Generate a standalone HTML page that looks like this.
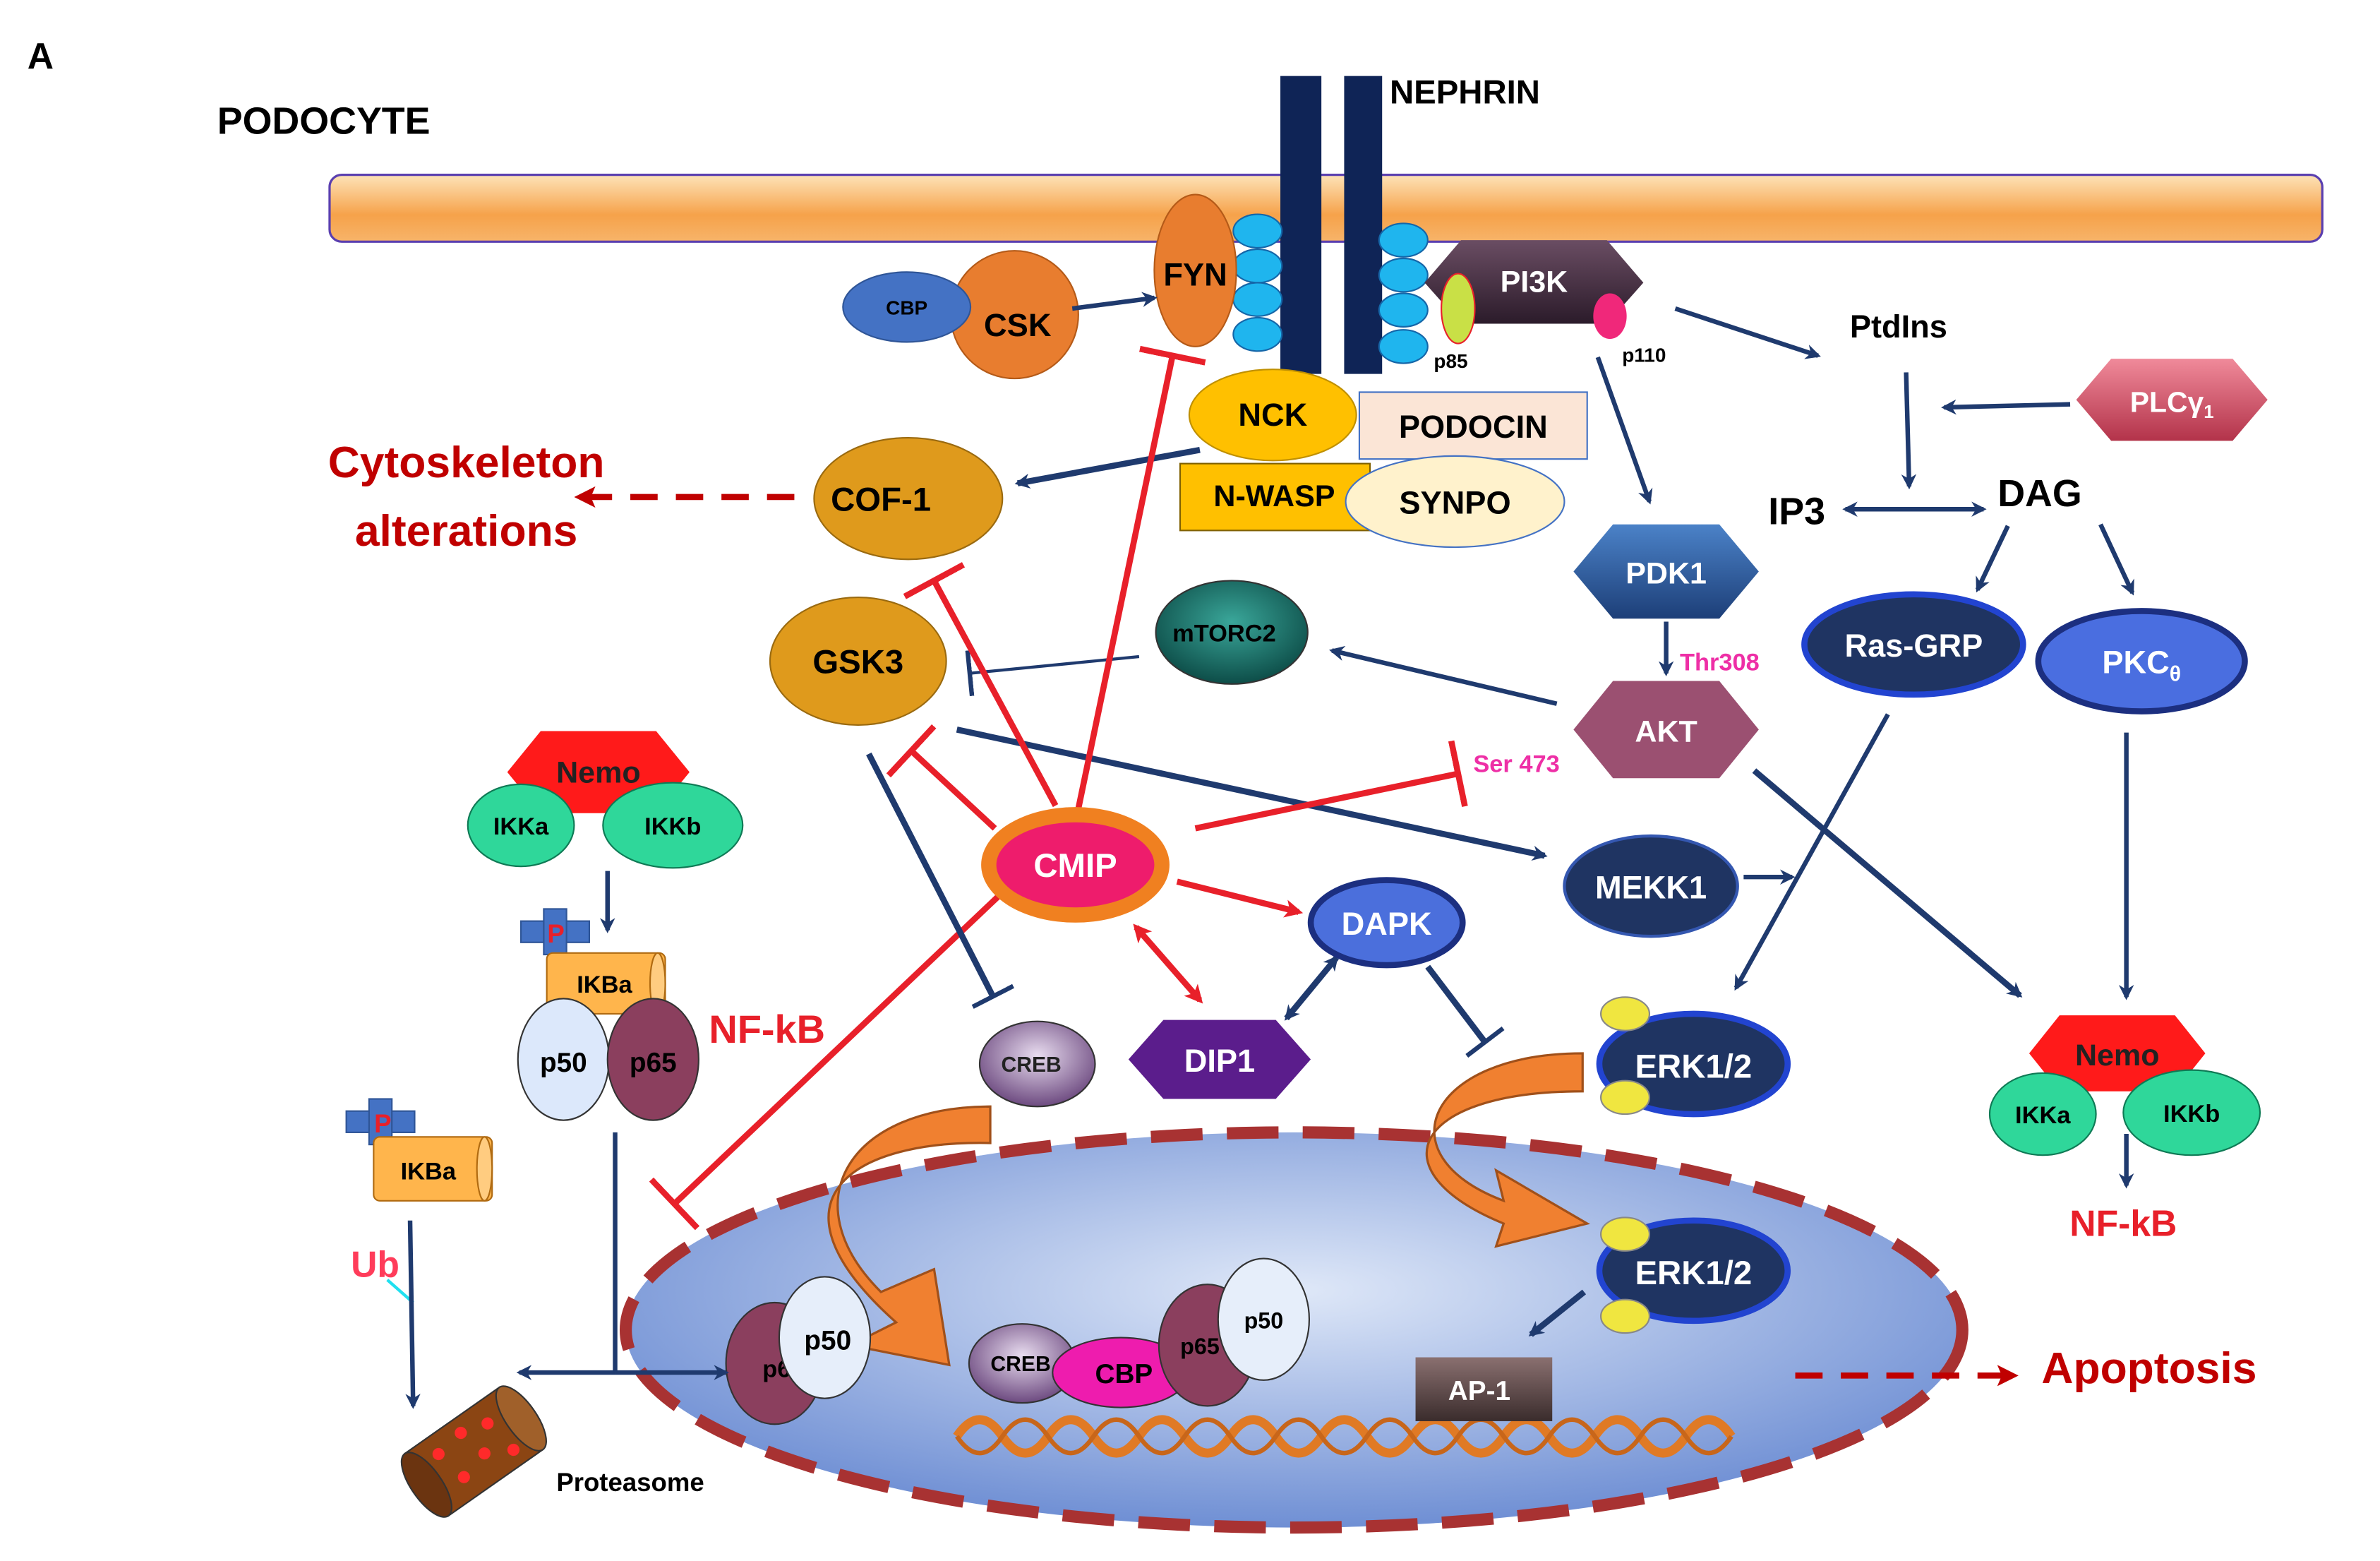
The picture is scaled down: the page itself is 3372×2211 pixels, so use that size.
<!DOCTYPE html>
<html><head><meta charset="utf-8"><style>
html,body{margin:0;padding:0;background:#fff}
svg{display:block}
text{font-family:"Liberation Sans",sans-serif;font-weight:bold}
</style></head><body>
<svg width="3372" height="2211" viewBox="0 0 1567 1027" preserveAspectRatio="none" xmlns="http://www.w3.org/2000/svg">
<defs>
<linearGradient id="mem" x1="0" y1="0" x2="0" y2="1"><stop offset="0" stop-color="#fde3b8"/><stop offset="0.6" stop-color="#f6a24a"/><stop offset="1" stop-color="#f7b46a"/></linearGradient>
<radialGradient id="nuc" cx="0.5" cy="0.4" r="0.6"><stop offset="0" stop-color="#dfe8f8"/><stop offset="1" stop-color="#6f8fd4"/></radialGradient>
<radialGradient id="teal" cx="0.5" cy="0.4" r="0.6"><stop offset="0" stop-color="#3aa79a"/><stop offset="1" stop-color="#0d4d48"/></radialGradient>
<radialGradient id="creb" cx="0.5" cy="0.4" r="0.6"><stop offset="0" stop-color="#e8dcef"/><stop offset="1" stop-color="#6d4a80"/></radialGradient>
<linearGradient id="pi3k" x1="0" y1="0" x2="0" y2="1"><stop offset="0" stop-color="#6a4d63"/><stop offset="1" stop-color="#2b1b2a"/></linearGradient>
<linearGradient id="pdk" x1="0" y1="0" x2="0" y2="1"><stop offset="0" stop-color="#4b82c8"/><stop offset="1" stop-color="#1d3f78"/></linearGradient>
<linearGradient id="plc" x1="0" y1="0" x2="0" y2="1"><stop offset="0" stop-color="#f08a9a"/><stop offset="1" stop-color="#b3334a"/></linearGradient>
<linearGradient id="ap1" x1="0" y1="0" x2="0" y2="1"><stop offset="0" stop-color="#8a7070"/><stop offset="1" stop-color="#3a2c2c"/></linearGradient>
<marker id="an" markerWidth="10" markerHeight="10" refX="8" refY="5" orient="auto" markerUnits="userSpaceOnUse"><path d="M0,0 L10,5 L0,10 L3,5z" fill="#1f3a6e"/></marker>
<marker id="ans" markerWidth="10" markerHeight="10" refX="2" refY="5" orient="auto" markerUnits="userSpaceOnUse"><path d="M10,0 L0,5 L10,10 L7,5z" fill="#1f3a6e"/></marker>
<marker id="ar" markerWidth="12" markerHeight="12" refX="9" refY="6" orient="auto" markerUnits="userSpaceOnUse"><path d="M0,0 L12,6 L0,12 L3,6z" fill="#e8202a"/></marker>
<marker id="ars" markerWidth="12" markerHeight="12" refX="3" refY="6" orient="auto" markerUnits="userSpaceOnUse"><path d="M12,0 L0,6 L12,12 L9,6z" fill="#e8202a"/></marker>
<marker id="ard" markerWidth="14" markerHeight="14" refX="10" refY="7" orient="auto" markerUnits="userSpaceOnUse"><path d="M0,0 L14,7 L0,14 L3,7z" fill="#c00000"/></marker>
<marker id="tn" markerWidth="4" markerHeight="30" refX="2" refY="15" orient="auto" markerUnits="userSpaceOnUse"><rect x="0" y="0" width="3" height="30" fill="#1f3a6e"/></marker>
<marker id="tr" markerWidth="5" markerHeight="44" refX="2" refY="22" orient="auto" markerUnits="userSpaceOnUse"><rect x="0" y="0" width="4" height="44" fill="#e8202a"/></marker>
</defs>

<text x="18" y="45" font-size="24">A</text>
<text x="143" y="88" font-size="25">PODOCYTE</text>

<rect x="217" y="115" width="1312" height="44" rx="8" fill="url(#mem)" stroke="#5a3fb0" stroke-width="1.5"/>

<rect x="843" y="50" width="27" height="196" fill="#0f2456"/>
<rect x="885" y="50" width="25" height="196" fill="#0f2456"/>
<text x="915" y="68" font-size="22">NEPHRIN</text>
<g fill="#1fb5ee" stroke="#1566a8" stroke-width="1">
<ellipse cx="828" cy="152" rx="16" ry="11"/><ellipse cx="828" cy="175" rx="16" ry="11"/><ellipse cx="828" cy="197" rx="16" ry="11"/><ellipse cx="828" cy="220" rx="16" ry="11"/>
<ellipse cx="924" cy="158" rx="16" ry="11"/><ellipse cx="924" cy="181" rx="16" ry="11"/><ellipse cx="924" cy="204" rx="16" ry="11"/><ellipse cx="924" cy="228" rx="16" ry="11"/>
</g>

<ellipse cx="787" cy="178" rx="27" ry="50" fill="#e87d2f" stroke="#b45a18"/>
<text x="787" y="188" font-size="21" text-anchor="middle">FYN</text>
<circle cx="668" cy="207" r="42" fill="#e87d2f" stroke="#b45a18"/>
<ellipse cx="597" cy="202" rx="42" ry="23" fill="#4472c4" stroke="#2f5597"/>
<text x="597" y="207" font-size="13" text-anchor="middle">CBP</text>
<text x="670" y="221" font-size="21" text-anchor="middle">CSK</text>
<line x1="706" y1="203" x2="760" y2="196" stroke="#1f3a6e" stroke-width="3" marker-end="url(#an)"/>

<polygon points="938,186 962,158 1058,158 1082,186 1058,213 962,213" fill="url(#pi3k)"/>
<text x="1010" y="192" font-size="20" fill="#fff" text-anchor="middle">PI3K</text>
<ellipse cx="960" cy="203" rx="11" ry="23" fill="#c9e046" stroke="#e8202a"/>
<ellipse cx="1060" cy="208" rx="11" ry="15" fill="#f0287a"/>
<text x="944" y="242" font-size="13">p85</text>
<text x="1068" y="238" font-size="13">p110</text>

<rect x="895" y="258" width="150" height="44" fill="#fbe5d6" stroke="#4472c4"/>
<text x="970" y="288" font-size="21" text-anchor="middle">PODOCIN</text>
<rect x="777" y="305" width="125" height="44" fill="#ffc000" stroke="#7f6000"/>
<text x="839" y="333" font-size="20" text-anchor="middle">N-WASP</text>
<ellipse cx="838" cy="273" rx="55" ry="30" fill="#ffc000" stroke="#c09000"/>
<text x="838" y="280" font-size="21" text-anchor="middle">NCK</text>
<ellipse cx="958" cy="330" rx="72" ry="30" fill="#fff2cc" stroke="#4472c4"/>
<text x="958" y="338" font-size="21" text-anchor="middle">SYNPO</text>

<ellipse cx="598" cy="328" rx="62" ry="40" fill="#df9a1c" stroke="#9a6a10"/>
<text x="580" y="336" font-size="22" text-anchor="middle">COF-1</text>
<line x1="790" y1="296" x2="670" y2="318" stroke="#1f3a6e" stroke-width="4" marker-end="url(#an)"/>
<line x1="523" y1="327" x2="382" y2="327" stroke="#c00000" stroke-width="4" stroke-dasharray="18,12" marker-end="url(#ard)"/>
<text x="307" y="314" font-size="29" fill="#c00000" text-anchor="middle">Cytoskeleton</text>
<text x="307" y="359" font-size="29" fill="#c00000" text-anchor="middle">alterations</text>

<ellipse cx="565" cy="435" rx="58" ry="42" fill="#df9a1c" stroke="#9a6a10"/>
<text x="565" y="443" font-size="22" text-anchor="middle">GSK3</text>
<ellipse cx="811" cy="416" rx="50" ry="34" fill="url(#teal)" stroke="#333"/>
<text x="806" y="422" font-size="16" text-anchor="middle">mTORC2</text>
<line x1="750" y1="432" x2="638" y2="443" stroke="#1f3a6e" stroke-width="2" marker-end="url(#tn)"/>
<line x1="1025" y1="463" x2="877" y2="428" stroke="#1f3a6e" stroke-width="3" marker-end="url(#an)"/>

<text x="1250" y="222" font-size="21" text-anchor="middle">PtdIns</text>
<line x1="1103" y1="203" x2="1197" y2="234" stroke="#1f3a6e" stroke-width="3" marker-end="url(#an)"/>
<polygon points="1367,263 1390,236 1470,236 1493,263 1470,290 1390,290" fill="url(#plc)"/>
<text x="1430" y="271" font-size="19" fill="#fff" text-anchor="middle">PLCγ<tspan font-size="12" dy="4">1</tspan></text>
<line x1="1363" y1="266" x2="1280" y2="268" stroke="#1f3a6e" stroke-width="3" marker-end="url(#an)"/>
<line x1="1255" y1="245" x2="1257" y2="320" stroke="#1f3a6e" stroke-width="3" marker-end="url(#an)"/>
<text x="1183" y="345" font-size="25" text-anchor="middle">IP3</text>
<text x="1343" y="333" font-size="25" text-anchor="middle">DAG</text>
<line x1="1215" y1="335" x2="1306" y2="335" stroke="#1f3a6e" stroke-width="3" marker-start="url(#ans)" marker-end="url(#an)"/>

<polygon points="1036,376 1062,345 1132,345 1158,376 1132,407 1062,407" fill="url(#pdk)"/>
<text x="1097" y="384" font-size="20" fill="#fff" text-anchor="middle">PDK1</text>
<line x1="1052" y1="235" x2="1086" y2="330" stroke="#1f3a6e" stroke-width="3" marker-end="url(#an)"/>
<line x1="1097" y1="409" x2="1097" y2="443" stroke="#1f3a6e" stroke-width="3" marker-end="url(#an)"/>
<text x="1106" y="441" font-size="16" fill="#ee2fa6">Thr308</text>
<polygon points="1036,480 1062,448 1132,448 1158,480 1132,512 1062,512" fill="#9b5071"/>
<text x="1097" y="488" font-size="20" fill="#fff" text-anchor="middle">AKT</text>
<text x="970" y="508" font-size="16" fill="#ee2fa6">Ser 473</text>

<ellipse cx="1260" cy="424" rx="72" ry="33" fill="#1f3462" stroke="#2244d0" stroke-width="4"/>
<text x="1260" y="432" font-size="21" fill="#fff" text-anchor="middle">Ras-GRP</text>
<ellipse cx="1410" cy="435" rx="68" ry="33" fill="#4a6ee0" stroke="#1c2f80" stroke-width="4"/>
<text x="1410" y="443" font-size="21" fill="#fff" text-anchor="middle">PKC<tspan font-size="14" dy="5">θ</tspan></text>
<line x1="1322" y1="346" x2="1302" y2="388" stroke="#1f3a6e" stroke-width="3" marker-end="url(#an)"/>
<line x1="1383" y1="345" x2="1404" y2="390" stroke="#1f3a6e" stroke-width="3" marker-end="url(#an)"/>

<ellipse cx="1087" cy="583" rx="57" ry="33" fill="#1f3462" stroke="#3457b0" stroke-width="2"/>
<text x="1087" y="591" font-size="21" fill="#fff" text-anchor="middle">MEKK1</text>
<line x1="1148" y1="577" x2="1180" y2="577" stroke="#1f3a6e" stroke-width="3" marker-end="url(#an)"/>
<line x1="630" y1="480" x2="1017" y2="563" stroke="#1f3a6e" stroke-width="4" marker-end="url(#an)"/>
<line x1="1155" y1="507" x2="1330" y2="655" stroke="#1f3a6e" stroke-width="4" marker-end="url(#an)"/>
<line x1="1243" y1="470" x2="1143" y2="650" stroke="#1f3a6e" stroke-width="3" marker-end="url(#an)"/>
<line x1="1400" y1="482" x2="1400" y2="656" stroke="#1f3a6e" stroke-width="3" marker-end="url(#an)"/>

<polygon points="1336,693 1356,668 1432,668 1452,693 1432,718 1356,718" fill="#ff1a1a"/>
<text x="1394" y="701" font-size="20" fill="#222" text-anchor="middle">Nemo</text>
<ellipse cx="1345" cy="733" rx="35" ry="27" fill="#2fd79a" stroke="#0f7a55"/>
<text x="1345" y="739" font-size="16" text-anchor="middle">IKKa</text>
<ellipse cx="1443" cy="732" rx="45" ry="28" fill="#2fd79a" stroke="#0f7a55"/>
<text x="1443" y="738" font-size="16" text-anchor="middle">IKKb</text>
<line x1="1400" y1="746" x2="1400" y2="780" stroke="#1f3a6e" stroke-width="3" marker-end="url(#an)"/>
<text x="1398" y="813" font-size="24" fill="#e8202a" text-anchor="middle">NF-kB</text>

<ellipse cx="852" cy="875" rx="440" ry="130" fill="url(#nuc)" stroke="#a83232" stroke-width="8" stroke-dasharray="34,16"/>

<line x1="710" y1="532" x2="772" y2="234" stroke="#e8202a" stroke-width="4" marker-end="url(#tr)"/>
<line x1="695" y1="530" x2="615" y2="382" stroke="#e8202a" stroke-width="4" marker-end="url(#tr)"/>
<line x1="655" y1="545" x2="600" y2="494" stroke="#e8202a" stroke-width="4" marker-end="url(#tr)"/>
<line x1="657" y1="590" x2="444" y2="792" stroke="#e8202a" stroke-width="4" marker-end="url(#tr)"/>
<line x1="787" y1="545" x2="960" y2="509" stroke="#e8202a" stroke-width="4" marker-end="url(#tr)"/>
<line x1="775" y1="580" x2="855" y2="600" stroke="#e8202a" stroke-width="4" marker-end="url(#ar)"/>
<line x1="748" y1="610" x2="790" y2="658" stroke="#e8202a" stroke-width="4" marker-start="url(#ars)" marker-end="url(#ar)"/>

<line x1="572" y1="496" x2="654" y2="656" stroke="#1f3a6e" stroke-width="4" marker-end="url(#tn)"/>
<line x1="940" y1="636" x2="978" y2="686" stroke="#1f3a6e" stroke-width="4" marker-end="url(#tn)"/>
<line x1="880" y1="630" x2="847" y2="670" stroke="#1f3a6e" stroke-width="4" marker-start="url(#ans)" marker-end="url(#an)"/>

<ellipse cx="708" cy="569" rx="62" ry="38" fill="#f08020"/>
<ellipse cx="708" cy="569" rx="52" ry="28" fill="#ee1c6c"/>
<text x="708" y="577" font-size="22" fill="#fff" text-anchor="middle">CMIP</text>

<ellipse cx="913" cy="607" rx="50" ry="28" fill="#4b6fdc" stroke="#1c2f80" stroke-width="4"/>
<text x="913" y="615" font-size="21" fill="#fff" text-anchor="middle">DAPK</text>
<polygon points="743,697 766,671 840,671 863,697 840,723 766,723" fill="#5b1d8c"/>
<text x="803" y="705" font-size="21" fill="#fff" text-anchor="middle">DIP1</text>
<ellipse cx="683" cy="700" rx="38" ry="28" fill="url(#creb)" stroke="#333"/>
<text x="679" y="705" font-size="14" fill="#222" text-anchor="middle">CREB</text>

<ellipse cx="1115" cy="700" rx="62" ry="33" fill="#1f3462" stroke="#2244d0" stroke-width="4"/>
<text x="1115" y="709" font-size="22" fill="#fff" text-anchor="middle">ERK1/2</text>
<ellipse cx="1070" cy="667" rx="16" ry="11" fill="#f0e640" stroke="#888"/>
<ellipse cx="1070" cy="722" rx="16" ry="11" fill="#f0e640" stroke="#888"/>
<ellipse cx="1115" cy="836" rx="62" ry="33" fill="#1f3462" stroke="#2244d0" stroke-width="4"/>
<text x="1115" y="845" font-size="22" fill="#fff" text-anchor="middle">ERK1/2</text>
<ellipse cx="1070" cy="812" rx="16" ry="11" fill="#f0e640" stroke="#888"/>
<ellipse cx="1070" cy="866" rx="16" ry="11" fill="#f0e640" stroke="#888"/>
<line x1="1043" y1="850" x2="1008" y2="878" stroke="#1f3a6e" stroke-width="4" marker-end="url(#an)"/>

<path d="M652,728 C560,728 520,790 580,850 L615,835 L625,898 L560,885 L590,870 C500,790 560,750 652,752 Z" fill="#f08030" stroke="#a0501a" stroke-width="1.5"/>
<path d="M1042,693 C940,693 910,760 990,790 L985,770 L1045,805 L985,820 L990,805 C905,770 930,718 1042,718 Z" fill="#f08030" stroke="#a0501a" stroke-width="1.5"/>

<path d="M630,945 q15,-22 30,0 t30,0 t30,0 t30,0 t30,0 t30,0 t30,0 t30,0 t30,0 t30,0 t30,0 t30,0 t30,0 t30,0 t30,0 t30,0 t30,0" fill="none" stroke="#e07a25" stroke-width="6"/>
<path d="M630,945 q15,22 30,0 t30,0 t30,0 t30,0 t30,0 t30,0 t30,0 t30,0 t30,0 t30,0 t30,0 t30,0 t30,0 t30,0 t30,0 t30,0 t30,0" fill="none" stroke="#c8661a" stroke-width="3"/>

<rect x="932" y="893" width="90" height="42" fill="url(#ap1)"/>
<text x="974" y="921" font-size="18" fill="#fff" text-anchor="middle">AP-1</text>
<line x1="1182" y1="905" x2="1325" y2="905" stroke="#c00000" stroke-width="4" stroke-dasharray="18,12" marker-end="url(#ard)"/>
<text x="1415" y="910" font-size="29" fill="#c00000" text-anchor="middle">Apoptosis</text>

<ellipse cx="510" cy="897" rx="32" ry="40" fill="#8b3f5e" stroke="#333"/>
<text x="502" y="906" font-size="16">p65</text>
<ellipse cx="543" cy="880" rx="30" ry="40" fill="#e6eefa" stroke="#333"/>
<text x="545" y="888" font-size="18" text-anchor="middle">p50</text>
<ellipse cx="673" cy="897" rx="35" ry="26" fill="url(#creb)" stroke="#333"/>
<text x="672" y="902" font-size="14" text-anchor="middle">CREB</text>
<ellipse cx="738" cy="903" rx="45" ry="23" fill="#ee1cae" stroke="#333"/>
<text x="740" y="910" font-size="18" text-anchor="middle">CBP</text>
<ellipse cx="795" cy="885" rx="32" ry="40" fill="#8b3f5e" stroke="#333"/>
<text x="790" y="891" font-size="15" text-anchor="middle">p65</text>
<ellipse cx="832" cy="868" rx="30" ry="40" fill="#e6eefa" stroke="#333"/>
<text x="832" y="874" font-size="15" text-anchor="middle">p50</text>

<polygon points="334,508 356,481 432,481 454,508 432,535 356,535" fill="#ff1a1a"/>
<text x="394" y="515" font-size="20" fill="#222" text-anchor="middle">Nemo</text>
<ellipse cx="343" cy="543" rx="35" ry="27" fill="#2fd79a" stroke="#0f7a55"/>
<text x="343" y="549" font-size="16" text-anchor="middle">IKKa</text>
<ellipse cx="443" cy="543" rx="46" ry="28" fill="#2fd79a" stroke="#0f7a55"/>
<text x="443" y="549" font-size="16" text-anchor="middle">IKKb</text>
<line x1="400" y1="573" x2="400" y2="612" stroke="#1f3a6e" stroke-width="3" marker-end="url(#an)"/>
<g fill="#4472c4" stroke="#2f5597"><rect x="343" y="606" width="45" height="14"/><rect x="358" y="598" width="15" height="30"/></g>
<text x="366" y="620" font-size="17" fill="#e8202a" text-anchor="middle">P</text>
<rect x="360" y="627" width="78" height="40" rx="4" fill="#ffb54c" stroke="#b06a10"/>
<ellipse cx="433" cy="647" rx="5" ry="20" fill="#ffcc80" stroke="#b06a10"/>
<text x="398" y="653" font-size="16" text-anchor="middle">IKBa</text>
<ellipse cx="371" cy="697" rx="30" ry="40" fill="#dce8fb" stroke="#333"/>
<text x="371" y="705" font-size="18" text-anchor="middle">p50</text>
<ellipse cx="430" cy="697" rx="30" ry="40" fill="#8b3f5e" stroke="#333"/>
<text x="430" y="705" font-size="18" text-anchor="middle">p65</text>
<text x="505" y="686" font-size="26" fill="#e8202a" text-anchor="middle">NF-kB</text>

<g fill="#4472c4" stroke="#2f5597"><rect x="228" y="731" width="45" height="14"/><rect x="243" y="723" width="15" height="30"/></g>
<text x="252" y="745" font-size="17" fill="#e8202a" text-anchor="middle">P</text>
<rect x="246" y="748" width="78" height="42" rx="4" fill="#ffb54c" stroke="#b06a10"/>
<ellipse cx="319" cy="769" rx="5" ry="21" fill="#ffcc80" stroke="#b06a10"/>
<text x="282" y="776" font-size="16" text-anchor="middle">IKBa</text>
<text x="247" y="840" font-size="24" fill="#ff3c5a" text-anchor="middle">Ub</text>
<line x1="255" y1="842" x2="272" y2="857" stroke="#20e0f0" stroke-width="2"/>
<line x1="270" y1="803" x2="272" y2="925" stroke="#1f3a6e" stroke-width="3" marker-end="url(#an)"/>

<line x1="405" y1="745" x2="405" y2="903" stroke="#1f3a6e" stroke-width="3"/>
<line x1="405" y1="903" x2="342" y2="903" stroke="#1f3a6e" stroke-width="3" marker-end="url(#an)"/>
<line x1="405" y1="903" x2="478" y2="903" stroke="#1f3a6e" stroke-width="3" marker-end="url(#an)"/>

<g transform="translate(312,955) rotate(-35)">
<rect x="-38" y="-25" width="76" height="50" fill="#8b4513" stroke="#333"/>
<ellipse cx="-38" cy="0" rx="10" ry="25" fill="#6b3410" stroke="#333"/>
<ellipse cx="38" cy="0" rx="10" ry="25" fill="#a0602a" stroke="#333"/>
<g fill="#ff2a2a"><circle cx="-20" cy="-12" r="4"/><circle cx="0" cy="-15" r="4"/><circle cx="18" cy="-10" r="4"/><circle cx="-15" cy="10" r="4"/><circle cx="5" cy="5" r="4"/><circle cx="22" cy="14" r="4"/></g>
</g>
<text x="415" y="981" font-size="17" text-anchor="middle">Proteasome</text>
</svg>
</body></html>
